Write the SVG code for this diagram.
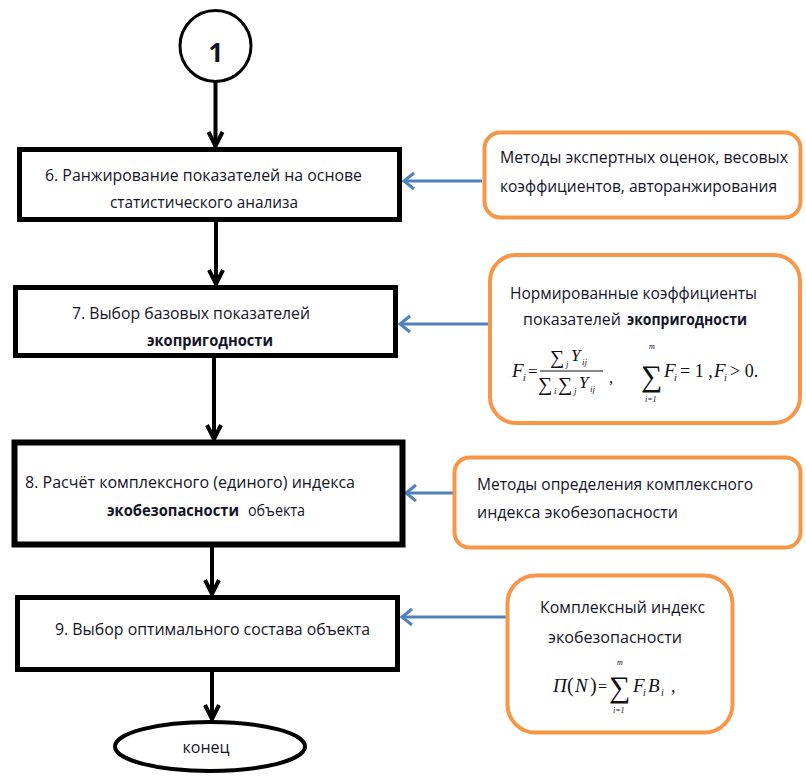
<svg xmlns="http://www.w3.org/2000/svg" width="806" height="776" viewBox="0 0 806 776">
<style>
.box{fill:#fff;stroke:#000;stroke-width:5}
.ob{fill:#fff;stroke:#F79646;stroke-width:4}
.t{font-family:"Open Sans","Noto Sans","Liberation Sans",sans-serif;font-size:16px;fill:#141428}
.b{font-weight:bold}
.blk{stroke:#000;stroke-width:4;fill:none}
.blu{stroke:#4F81BD;stroke-width:3;fill:none}
.m{font-family:"Liberation Serif","Times New Roman",serif;fill:#111}
.mi{font-style:italic}
</style>
<defs>
<marker id="ah" markerUnits="userSpaceOnUse" viewBox="0 0 20 20" markerWidth="20" markerHeight="20" refX="17" refY="10" orient="auto">
<path d="M3,3 L17,10 L3,17" fill="none" stroke="#000" stroke-width="4"/>
</marker>
<marker id="bh" markerUnits="userSpaceOnUse" viewBox="0 0 16 20" markerWidth="16" markerHeight="20" refX="3" refY="10" orient="auto">
<path d="M13,2 L3,10 L13,18" fill="none" stroke="#4F81BD" stroke-width="3"/>
</marker>
</defs>

<g id="connectors">
<line class="blk" x1="215.5" y1="82" x2="215.5" y2="146" marker-end="url(#ah)"/>
<line class="blk" x1="216" y1="222" x2="216" y2="284" marker-end="url(#ah)"/>
<line class="blk" x1="214" y1="358" x2="214" y2="439" marker-end="url(#ah)"/>
<line class="blk" x1="212" y1="547" x2="212" y2="594" marker-end="url(#ah)"/>
<line class="blk" x1="212" y1="672" x2="212" y2="719" marker-end="url(#ah)"/>
<line class="blu" x1="404" y1="181" x2="482" y2="181" marker-start="url(#bh)"/>
<line class="blu" x1="400" y1="324" x2="489" y2="324" marker-start="url(#bh)"/>
<line class="blu" x1="406" y1="493" x2="453" y2="493" marker-start="url(#bh)"/>
<line class="blu" x1="402" y1="617" x2="506" y2="617" marker-start="url(#bh)"/>
</g>

<g id="start">
<circle cx="215.5" cy="46" r="35.5" fill="#fff" stroke="#000" stroke-width="3"/>
<text class="t b" x="216" y="62" text-anchor="middle" style="font-size:26px">1</text>
</g>

<g id="step6">
<rect class="box" x="19.5" y="149.5" width="380" height="70"/>
<text class="t" x="45" y="181" textLength="317" lengthAdjust="spacingAndGlyphs">6. Ранжирование  показателей на основе</text>
<text class="t" x="110" y="208" textLength="188" lengthAdjust="spacingAndGlyphs">статистического анализа</text>
</g>

<g id="step7">
<rect class="box" x="15.5" y="287.5" width="380" height="68"/>
<text class="t" x="72" y="319" textLength="238" lengthAdjust="spacingAndGlyphs">7. Выбор базовых показателей</text>
<text class="t b" x="147" y="346" textLength="126" lengthAdjust="spacingAndGlyphs">экопригодности</text>
</g>

<g id="step8">
<rect class="box" x="14.5" y="442.5" width="388" height="102" style="stroke-width:6"/>
<text class="t" x="25" y="488" textLength="330" lengthAdjust="spacingAndGlyphs">8. Расчёт комплексного (единого) индекса</text>
<text class="t b" x="107" y="516" textLength="132" lengthAdjust="spacingAndGlyphs">экобезопасности</text>
<text class="t" x="248" y="516" textLength="57" lengthAdjust="spacingAndGlyphs">объекта</text>
</g>

<g id="step9">
<rect class="box" x="17.5" y="597.5" width="380" height="72"/>
<text class="t" x="55" y="635" textLength="315" lengthAdjust="spacingAndGlyphs">9. Выбор оптимального состава объекта</text>
</g>

<g id="end">
<ellipse cx="210" cy="746.5" rx="95" ry="24.5" fill="#fff" stroke="#000" stroke-width="4"/>
<text class="t" x="206" y="753" text-anchor="middle">конец</text>
</g>

<g id="note6">
<rect class="ob" x="484.5" y="132.5" width="316" height="85" rx="16"/>
<text class="t" x="500" y="163" textLength="288" lengthAdjust="spacingAndGlyphs">Методы экспертных оценок, весовых</text>
<text class="t" x="500" y="192" textLength="277" lengthAdjust="spacingAndGlyphs">коэффициентов,  авторанжирования</text>
</g>

<g id="note7">
<rect class="ob" x="490" y="255" width="310" height="168" rx="26"/>
<text class="t" x="510" y="299" textLength="247" lengthAdjust="spacingAndGlyphs">Нормированные  коэффициенты</text>
<text class="t" x="523" y="325" textLength="98" lengthAdjust="spacingAndGlyphs">показателей</text>
<text class="t b" x="627" y="325" textLength="120" lengthAdjust="spacingAndGlyphs">экопригодности</text>
<g id="formula1" class="m">
<text class="mi" x="512" y="377" font-size="19">F</text>
<text class="mi" x="523" y="381" font-size="10">i</text>
<text x="528" y="377" font-size="17">=</text>
<line x1="540" y1="371" x2="603" y2="371" stroke="#111" stroke-width="1"/>
<text x="550" y="364" font-size="20">∑</text>
<text class="mi" x="566" y="367" font-size="9">j</text>
<text class="mi" x="571" y="361" font-size="17">Y</text>
<text class="mi" x="582" y="365" font-size="9">ij</text>
<text x="538" y="391" font-size="20">∑</text>
<text class="mi" x="554" y="394" font-size="9">i</text>
<text x="558" y="391" font-size="20">∑</text>
<text class="mi" x="574" y="394" font-size="9">j</text>
<text class="mi" x="579" y="388" font-size="17">Y</text>
<text class="mi" x="590" y="392" font-size="9">ij</text>
<text x="609" y="383" font-size="17">,</text>
<text x="641" y="386" font-size="30">∑</text>
<text class="mi" x="649" y="349" font-size="8">m</text>
<text class="mi" x="645" y="402" font-size="8">i=1</text>
<text class="mi" x="664" y="377" font-size="19">F</text>
<text class="mi" x="674" y="381" font-size="10">i</text>
<text x="680" y="377" font-size="18">= 1 ,</text>
<text class="mi" x="714" y="377" font-size="19">F</text>
<text class="mi" x="724" y="381" font-size="10">i</text>
<text x="730" y="377" font-size="18">&gt; 0.</text>
</g>
</g>

<g id="note8">
<rect class="ob" x="454.5" y="457.5" width="346" height="90" rx="15"/>
<text class="t" x="477" y="490" textLength="276" lengthAdjust="spacingAndGlyphs">Методы  определения комплексного</text>
<text class="t" x="477" y="518" textLength="201" lengthAdjust="spacingAndGlyphs">индекса экобезопасности</text>
</g>

<g id="note9">
<rect class="ob" x="507.5" y="575.5" width="225" height="157" rx="28"/>
<text class="t" x="540" y="613" textLength="165" lengthAdjust="spacingAndGlyphs">Комплексный индекс</text>
<text class="t" x="548" y="643" textLength="134" lengthAdjust="spacingAndGlyphs">экобезопасности</text>
<g id="formula2" class="m">
<text class="mi" x="553" y="692" font-size="19">П</text>
<text x="567" y="692" font-size="20">(</text>
<text class="mi" x="575" y="692" font-size="19">N</text>
<text x="590" y="692" font-size="20">)</text>
<text x="598" y="692" font-size="16">=</text>
<text x="609" y="697" font-size="30">∑</text>
<text class="mi" x="617" y="665" font-size="8">m</text>
<text class="mi" x="613" y="713" font-size="8">i=1</text>
<text class="mi" x="633" y="692" font-size="19">F</text>
<text class="mi" x="643" y="696" font-size="10">i</text>
<text class="mi" x="648" y="692" font-size="19">B</text>
<text class="mi" x="661" y="696" font-size="10">i</text>
<text x="671" y="692" font-size="18">,</text>
</g>
</g>
</svg>
